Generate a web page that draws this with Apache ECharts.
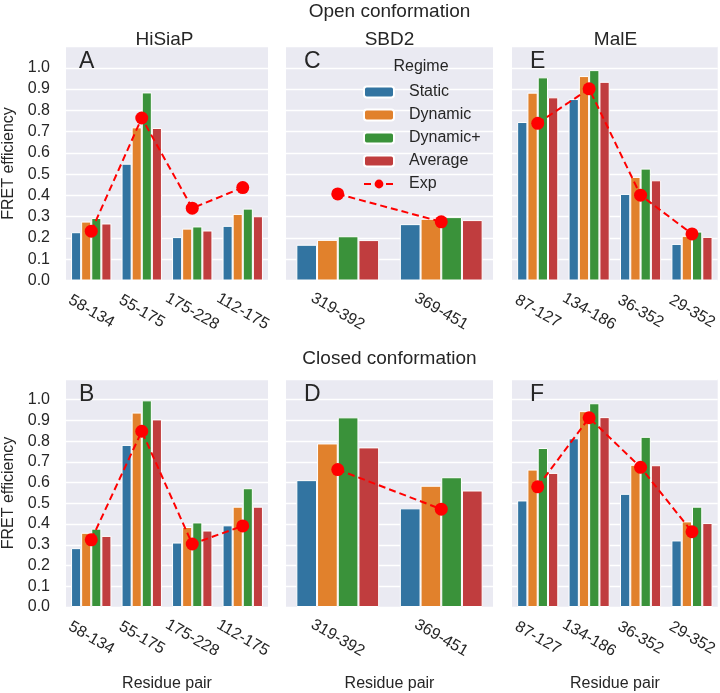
<!DOCTYPE html>
<html>
<head>
<meta charset="utf-8">
<script src="https://cdn.jsdelivr.net/npm/echarts@6/dist/echarts.min.js"></script>
<style>
html,body{margin:0;padding:0;background:#fff;}
#chart{width:720px;height:693px;}
</style>
</head>
<body>
<div id="chart"></div>
<script>
// ---------- data ----------
const regimes = ['Static', 'Dynamic', 'Dynamic+', 'Average'];
const expName = 'Exp';

const pairsHiSiaP = ['58-134', '55-175', '175-228', '112-175'];
const pairsSBD2 = ['319-392', '369-451'];
const pairsMalE = ['87-127', '134-186', '36-352', '29-352'];

const proteins = ['HiSiaP', 'SBD2', 'MalE'];
const conformations = ['Open conformation', 'Closed conformation'];
const panelLetters = ['A', 'C', 'E', 'B', 'D', 'F'];
const yTicks = [0, 0.1, 0.2, 0.3, 0.4, 0.5, 0.6, 0.7, 0.8, 0.9, 1.0];

// Open conformation (rows: Static, Dynamic, Dynamic+, Average)
const openHiSiaP = [
  [0.227, 0.549, 0.204, 0.257],
  [0.277, 0.720, 0.244, 0.313],
  [0.294, 0.884, 0.254, 0.338],
  [0.268, 0.717, 0.235, 0.302]
];
const openHiSiaPExp = [0.232, 0.764, 0.340, 0.437];

const openSBD2 = [
  [0.168, 0.265],
  [0.191, 0.290],
  [0.208, 0.298],
  [0.190, 0.284]
];
const openSBD2Exp = [0.407, 0.276];

const openMalE = [
  [0.745, 0.853, 0.407, 0.172],
  [0.883, 0.961, 0.487, 0.210],
  [0.955, 0.989, 0.526, 0.230],
  [0.861, 0.934, 0.471, 0.205]
];
const openMalEExp = [0.739, 0.901, 0.401, 0.219];

// Closed conformation
const closedHiSiaP = [
  [0.284, 0.782, 0.311, 0.394],
  [0.358, 0.938, 0.386, 0.484],
  [0.378, 0.997, 0.408, 0.573],
  [0.343, 0.905, 0.369, 0.484]
];
const closedHiSiaPExp = [0.324, 0.848, 0.304, 0.391];

const closedSBD2 = [
  [0.612, 0.476],
  [0.789, 0.585],
  [0.915, 0.626],
  [0.770, 0.562]
];
const closedSBD2Exp = [0.663, 0.472];

const closedMalE = [
  [0.514, 0.814, 0.546, 0.321],
  [0.663, 0.945, 0.686, 0.413],
  [0.767, 0.983, 0.821, 0.484],
  [0.647, 0.916, 0.684, 0.405]
];
const closedMalEExp = [0.580, 0.913, 0.674, 0.363];

// ---------- style / layout ----------
const barColors = ['#3274a1', '#e1812c', '#3a923a', '#c03d3e'];
const expColor = '#ff0000';
const textColor = '#262626';
const FONT = 'Liberation Sans, Arial, Helvetica, sans-serif';

const panelLeft = [61, 286, 512];
const panelWidth = 207;
const rowTop = [46.5, 379];
const rowHeight = [234, 235.5];

const panels = [
  { cats: pairsHiSiaP, bars: openHiSiaP, exp: openHiSiaPExp },
  { cats: pairsSBD2, bars: openSBD2, exp: openSBD2Exp },
  { cats: pairsMalE, bars: openMalE, exp: openMalEExp },
  { cats: pairsHiSiaP, bars: closedHiSiaP, exp: closedHiSiaPExp },
  { cats: pairsSBD2, bars: closedSBD2, exp: closedSBD2Exp },
  { cats: pairsMalE, bars: closedMalE, exp: closedMalEExp }
];

const grids = [], xAxes = [], yAxes = [], series = [], graphics = [];

panels.forEach((p, i) => {
  const row = Math.floor(i / 3), col = i % 3;
  grids.push({
    left: panelLeft[col], top: rowTop[row], width: panelWidth, height: rowHeight[row],
    show: true, backgroundColor: '#EAEAF2', borderWidth: 0, containLabel: false
  });
  xAxes.push({
    type: 'category', gridIndex: i, data: p.cats,
    axisLine: { show: false }, axisTick: { show: false }, splitLine: { show: false },
    axisLabel: {
      interval: 0, rotate: -30, align: 'center', verticalAlign: 'middle', margin: 31,
      fontSize: 16, color: textColor, fontFamily: FONT
    },
    name: row === 1 ? 'Residue pair' : '', nameLocation: 'middle', nameGap: 69,
    nameTextStyle: { fontSize: 16, color: textColor, fontFamily: FONT }
  });
  yAxes.push({
    type: 'value', gridIndex: i, min: 0, max: 1.1, interval: 0.1,
    axisLine: { show: false }, axisTick: { show: false },
    splitLine: { show: true, lineStyle: { color: '#ffffff', width: 1.3 } },
    axisLabel: {
      show: col === 0, fontSize: 16, color: textColor, fontFamily: FONT, margin: 16,
      formatter: v => (v > yTicks[yTicks.length - 1] + 0.05 ? '' : v.toFixed(1))
    },
    name: col === 0 ? 'FRET efficiency' : '', nameLocation: 'middle', nameGap: 49,
    nameTextStyle: { fontSize: 16, color: textColor, fontFamily: FONT }
  });
  regimes.forEach((r, k) => {
    series.push({
      name: r, type: 'bar', xAxisIndex: i, yAxisIndex: i, data: p.bars[k],
      barGap: '0%', barCategoryGap: '20%',
      itemStyle: { color: barColors[k], borderColor: '#ffffff', borderWidth: 1 },
      emphasis: { disabled: true }, animation: false, z: 2
    });
  });
  series.push({
    name: expName, type: 'line', xAxisIndex: i, yAxisIndex: i, data: p.exp,
    symbol: 'circle', symbolSize: 13, showAllSymbol: true,
    lineStyle: { color: expColor, width: 2, type: [7, 4] },
    itemStyle: { color: expColor },
    emphasis: { disabled: true }, animation: false, z: 5
  });
  graphics.push({
    type: 'text', left: panelLeft[col] + 18, top: rowTop[row] + 4, z: 10,
    style: { text: panelLetters[i], font: '23px ' + FONT, fill: textColor }
  });
});

// Titles
proteins.forEach((name, c) => {
  graphics.push({
    type: 'text', x: panelLeft[c] + panelWidth / 2, y: 40, z: 10,
    style: { text: name, font: '19px ' + FONT, fill: textColor, align: 'center', verticalAlign: 'middle' }
  });
});
graphics.push({
  type: 'text', x: panelLeft[1] + panelWidth / 2, y: 12, z: 10,
  style: { text: conformations[0], font: '19px ' + FONT, fill: textColor, align: 'center', verticalAlign: 'middle' }
});
graphics.push({
  type: 'text', x: panelLeft[1] + panelWidth / 2, y: 359, z: 10,
  style: { text: conformations[1], font: '19px ' + FONT, fill: textColor, align: 'center', verticalAlign: 'middle' }
});
graphics.push({
  type: 'text', x: 421, y: 67, z: 11,
  style: { text: 'Regime', font: '16px ' + FONT, fill: textColor, align: 'center', verticalAlign: 'middle' }
});

const chart = echarts.init(document.getElementById('chart'), null, { renderer: 'canvas' });
chart.setOption({
  animation: false,
  backgroundColor: '#ffffff',
  grid: grids,
  xAxis: xAxes,
  yAxis: yAxes,
  series: series,
  graphic: graphics,
  legend: {
    data: regimes.concat([expName]),
    orient: 'vertical', left: 363, top: 84, padding: 0, z: 10,
    itemWidth: 30, itemHeight: 11, itemGap: 7,
    selectedMode: false,
    textStyle: { fontSize: 16, color: textColor, fontFamily: FONT, padding: [0, 0, 0, 10], lineHeight: 16 }
  }
});
</script>
</body>
</html>
